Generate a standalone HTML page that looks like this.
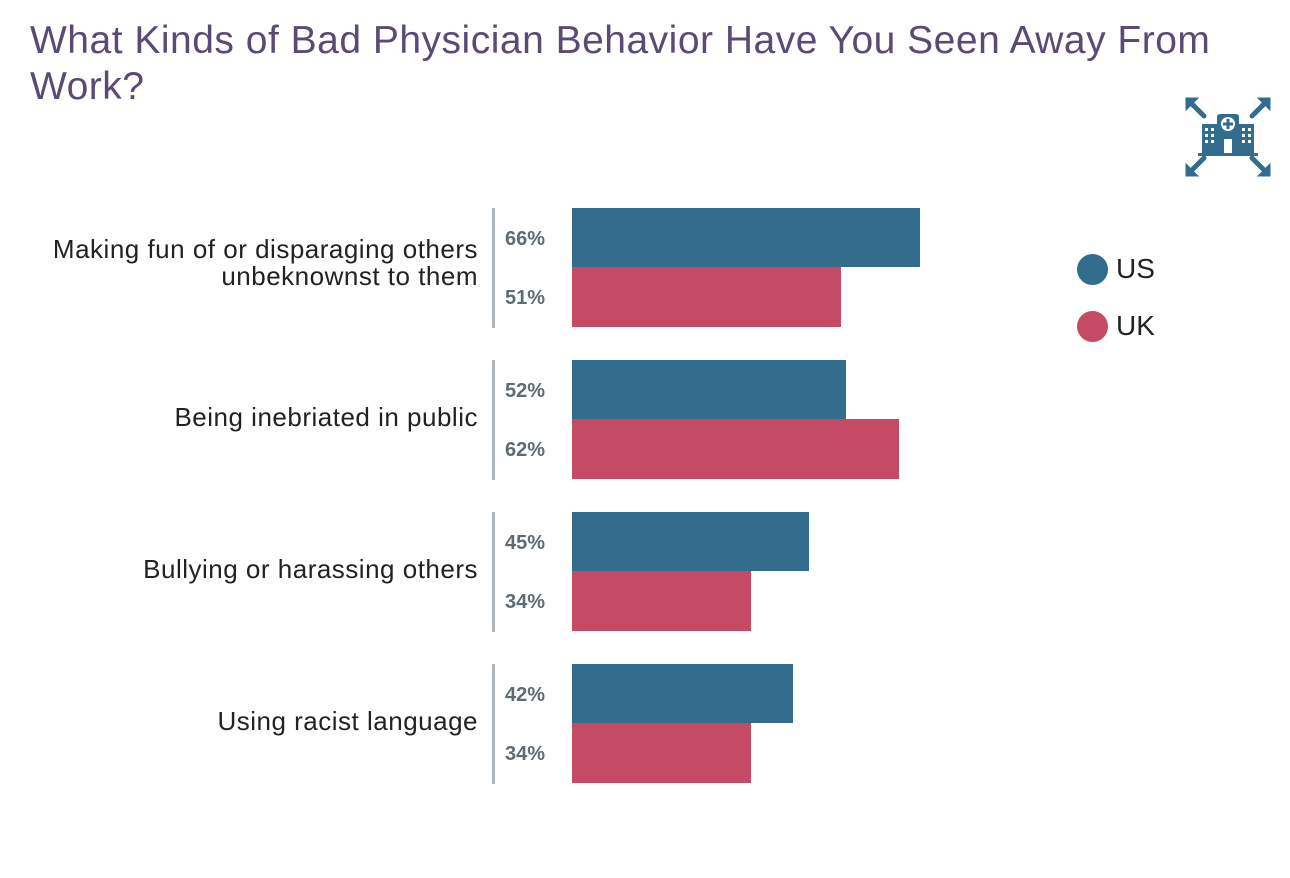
<!DOCTYPE html>
<html><head><style>
body{margin:0;width:1290px;height:878px;background:#fff;font-family:"Liberation Sans",sans-serif;position:relative;overflow:hidden}
.t{position:absolute;left:30px;top:18px;font-size:39px;line-height:46px;color:#5b4a75;width:1240px;letter-spacing:0.5px}
.lab{position:absolute;right:812px;text-align:right;font-size:26px;line-height:27px;color:#222;letter-spacing:0.5px;white-space:nowrap}
.pct{position:absolute;left:505px;font-size:20px;font-weight:bold;color:#5f6b73}
.bar{position:absolute;left:572px}
.us{background:#336d8d}.uk{background:#c54a64}
.vl{position:absolute;left:492px;width:3px;background:#b0b5bb}
.leg{position:absolute;font-size:28px;color:#222}
.dot{position:absolute;width:31px;height:31px;border-radius:50%}
</style></head><body>
<div class="t">What Kinds of Bad Physician Behavior Have You Seen Away From Work?</div>

<div class="vl" style="top:208px;height:120px"></div>
<div class="vl" style="top:360px;height:120px"></div>
<div class="vl" style="top:512px;height:120px"></div>
<div class="vl" style="top:664px;height:120px"></div>

<div class="lab" style="top:236px">Making fun of or disparaging others<br>unbeknownst to them</div>
<div class="lab" style="top:404px">Being inebriated in public</div>
<div class="lab" style="top:556px">Bullying or harassing others</div>
<div class="lab" style="top:708px">Using racist language</div>

<div class="bar us" style="top:208px;height:59px;width:348px"></div>
<div class="bar uk" style="top:267px;height:60px;width:269px"></div>
<div class="bar us" style="top:360px;height:59px;width:274px"></div>
<div class="bar uk" style="top:419px;height:60px;width:327px"></div>
<div class="bar us" style="top:512px;height:59px;width:237px"></div>
<div class="bar uk" style="top:571px;height:60px;width:179px"></div>
<div class="bar us" style="top:664px;height:59px;width:221px"></div>
<div class="bar uk" style="top:723px;height:60px;width:179px"></div>

<div class="pct" style="top:228px">66%</div>
<div class="pct" style="top:287px">51%</div>
<div class="pct" style="top:380px">52%</div>
<div class="pct" style="top:439px">62%</div>
<div class="pct" style="top:532px">45%</div>
<div class="pct" style="top:591px">34%</div>
<div class="pct" style="top:684px">42%</div>
<div class="pct" style="top:743px">34%</div>

<div class="dot us" style="left:1077px;top:254px"></div>
<div class="leg" style="left:1116px;top:253px">US</div>
<div class="dot uk" style="left:1077px;top:311px"></div>
<div class="leg" style="left:1116px;top:310px">UK</div>

<svg style="position:absolute;left:1180px;top:92px" width="96" height="90" viewBox="0 0 96 90">
<g fill="#336d8d" stroke="#336d8d">
<g stroke-width="5" stroke-linecap="round" fill="none">
<path d="M10 10 L24 24"/><path d="M86 10 L72 24"/><path d="M10 80 L24 66"/><path d="M86 80 L72 66"/>
</g>
<path d="M6 6 L18 6 L6 18Z" stroke-width="1"/>
<path d="M90 6 L78 6 L90 18Z" stroke-width="1"/>
<path d="M6 84 L18 84 L6 72Z" stroke-width="1"/>
<path d="M90 84 L78 84 L90 72Z" stroke-width="1"/>
<rect x="22" y="32" width="16" height="30" stroke="none"/>
<rect x="58" y="32" width="16" height="30" stroke="none"/>
<rect x="37" y="22" width="22" height="40" rx="3" stroke="none"/>
<rect x="18" y="61" width="60" height="3" stroke="none"/>
</g>
<circle cx="48" cy="32" r="7" fill="#fff"/>
<path d="M48 27v10M43 32h10" stroke="#336d8d" stroke-width="3"/>
<rect x="44" y="47" width="8" height="14" fill="#fff"/>
<g fill="#fff"><rect x="25" y="36" width="3" height="3"/><rect x="31" y="36" width="3" height="3"/><rect x="25" y="42" width="3" height="3"/><rect x="31" y="42" width="3" height="3"/><rect x="25" y="48" width="3" height="3"/><rect x="31" y="48" width="3" height="3"/>
<rect x="62" y="36" width="3" height="3"/><rect x="68" y="36" width="3" height="3"/><rect x="62" y="42" width="3" height="3"/><rect x="68" y="42" width="3" height="3"/><rect x="62" y="48" width="3" height="3"/><rect x="68" y="48" width="3" height="3"/></g>
</svg>
</body></html>
